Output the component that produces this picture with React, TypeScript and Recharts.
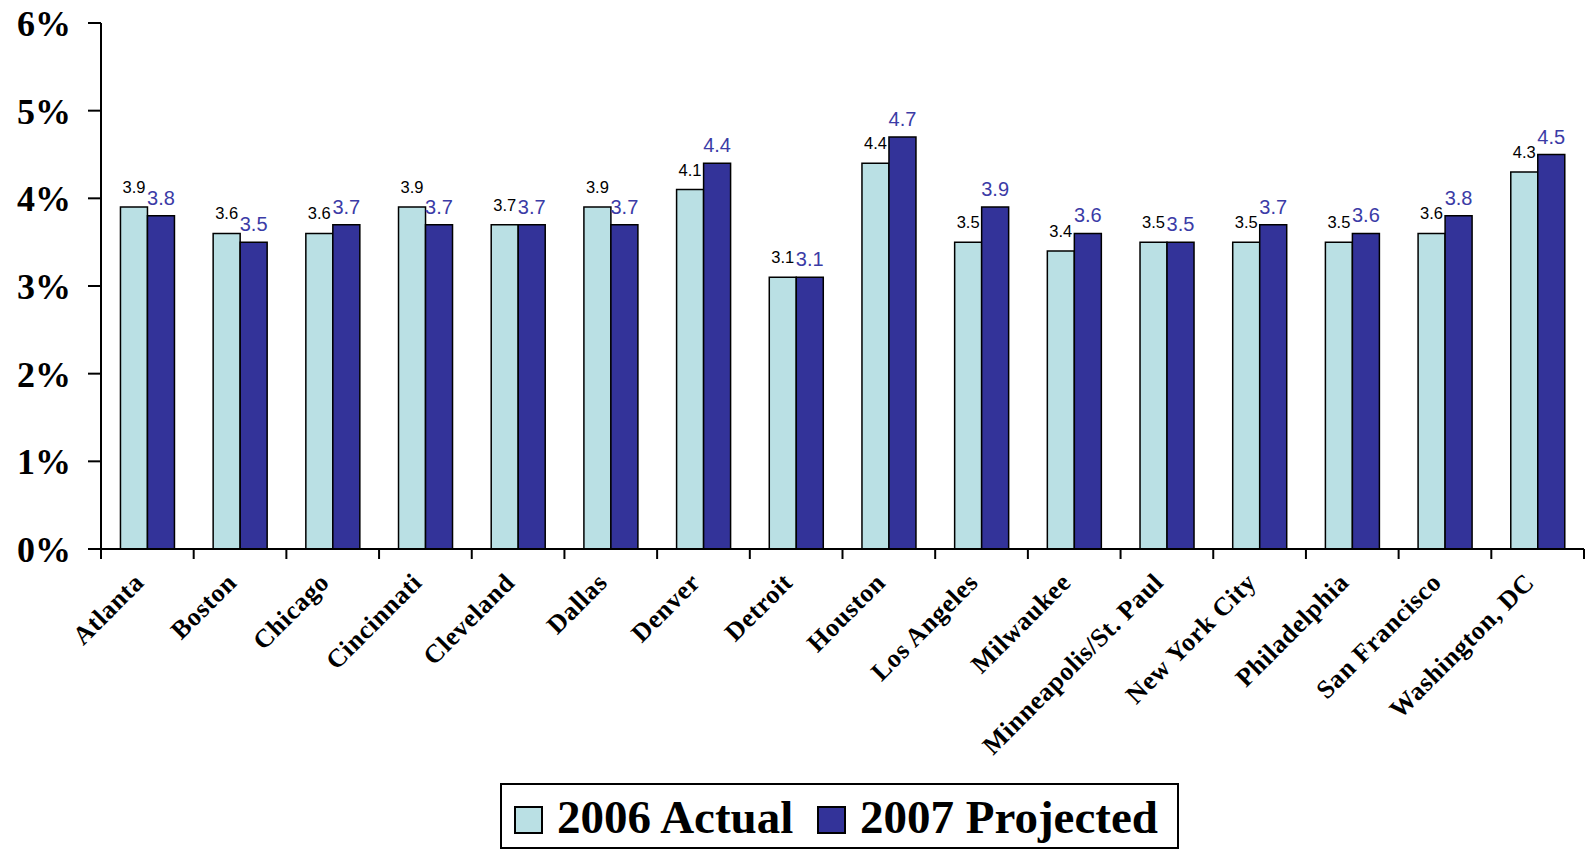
import React from "react";
import { BarChart, Bar, XAxis, YAxis, LabelList } from "recharts";

const cities = [
  "Atlanta", "Boston", "Chicago", "Cincinnati", "Cleveland", "Dallas", "Denver", "Detroit",
  "Houston", "Los Angeles", "Milwaukee", "Minneapolis/St. Paul", "New York City",
  "Philadelphia", "San Francisco", "Washington, DC",
];
const actual2006 = [3.9, 3.6, 3.6, 3.9, 3.7, 3.9, 4.1, 3.1, 4.4, 3.5, 3.4, 3.5, 3.5, 3.5, 3.6, 4.3];
const projected2007 = [3.8, 3.5, 3.7, 3.7, 3.7, 3.7, 4.4, 3.1, 4.7, 3.9, 3.6, 3.5, 3.7, 3.6, 3.8, 4.5];
const yTicks = [0, 1, 2, 3, 4, 5, 6];
const seriesNames = ["2006 Actual", "2007 Projected"];

const data = cities.map((c, i) => ({ city: c, a: actual2006[i], p: projected2007[i] }));

const W = 1586;
const H = 849;
const M = { top: 23, right: 2, left: 0, bottom: 100 };
const Y_W = 101;
const PLOT_W = W - M.left - M.right - Y_W;
const STEP = PLOT_W / cities.length;

const LIGHT = "#BAE0E4";
const DARK = "#333399";
const SERIF = "'Liberation Serif', 'Times New Roman', serif";
const SANS = "'Liberation Sans', Arial, sans-serif";

const XTick = (props: any) => {
  const { x, y, payload, index } = props;
  const lx = x - STEP / 2;
  const tx = x - 2;
  const ty = y + 35;
  return (
    <g>
      <line x1={lx} y1={y} x2={lx} y2={y + 10} stroke="#000" strokeWidth={2} />
      {index === cities.length - 1 && (
        <line x1={x + STEP / 2} y1={y} x2={x + STEP / 2} y2={y + 10} stroke="#000" strokeWidth={2} />
      )}
      <text
        x={tx}
        y={ty}
        transform={`rotate(-45, ${tx}, ${ty})`}
        textAnchor="end"
        fontFamily={SERIF}
        fontWeight="bold"
        fontSize={26}
        letterSpacing={0.6}
        fill="#000"
      >
        {payload.value}
      </text>
    </g>
  );
};

const YTick = (props: any) => {
  const { x, y, payload } = props;
  return (
    <text x={x} y={y + 13} textAnchor="end" fontFamily={SERIF} fontWeight="bold" fontSize={36} fill="#000">
      {`${payload.value}%`}
    </text>
  );
};

const LabelA = (props: any) => {
  const { x, y, width, value } = props;
  return (
    <text x={x + width / 2} y={y - 14} textAnchor="middle" fontFamily={SANS} fontSize={16.5} fill="#000">
      {value}
    </text>
  );
};

const LabelP = (props: any) => {
  const { x, y, width, value } = props;
  return (
    <text x={x + width / 2} y={y - 11} textAnchor="middle" fontFamily={SANS} fontSize={20} fill="#3B3BA6">
      {value}
    </text>
  );
};

const LegendBox = () => (
  <svg width={680} height={66} style={{ position: "absolute", left: 500, top: 783 }}>
    <rect x={1} y={1} width={677} height={64} fill="#fff" stroke="#000" strokeWidth={2} />
    <rect x={15} y={24} width={27} height={26} fill={LIGHT} stroke="#000" strokeWidth={2} />
    <text x={57} y={50} fontFamily={SERIF} fontWeight="bold" fontSize={47} fill="#000">
      {seriesNames[0]}
    </text>
    <rect x={318} y={24} width={27} height={26} fill={DARK} stroke="#000" strokeWidth={2} />
    <text x={360} y={50} fontFamily={SERIF} fontWeight="bold" fontSize={47} fill="#000">
      {seriesNames[1]}
    </text>
  </svg>
);

export default function App() {
  return (
    <div style={{ position: "absolute", left: 0, top: 0, width: W, height: H, background: "#fff", overflow: "hidden" }}>
      <BarChart width={W} height={H} data={data} margin={M} barCategoryGap="21%" barGap={0}>
        <XAxis
          dataKey="city"
          interval={0}
          height={200}
          tickSize={0}
          tickMargin={0}
          tickLine={false}
          axisLine={{ stroke: "#000", strokeWidth: 2 }}
          tick={<XTick />}
        />
        <YAxis
          width={Y_W}
          domain={[0, 6]}
          ticks={yTicks}
          interval={0}
          tickSize={13}
          tickMargin={17}
          axisLine={{ stroke: "#000", strokeWidth: 2 }}
          tickLine={{ stroke: "#000", strokeWidth: 2 }}
          tick={<YTick />}
        />
        <Bar dataKey="a" name={seriesNames[0]} fill={LIGHT} stroke="#000" strokeWidth={1.5} isAnimationActive={false}>
          <LabelList dataKey="a" content={<LabelA />} />
        </Bar>
        <Bar dataKey="p" name={seriesNames[1]} fill={DARK} stroke="#000" strokeWidth={1.5} isAnimationActive={false}>
          <LabelList dataKey="p" content={<LabelP />} />
        </Bar>
      </BarChart>
      <LegendBox />
    </div>
  );
}
